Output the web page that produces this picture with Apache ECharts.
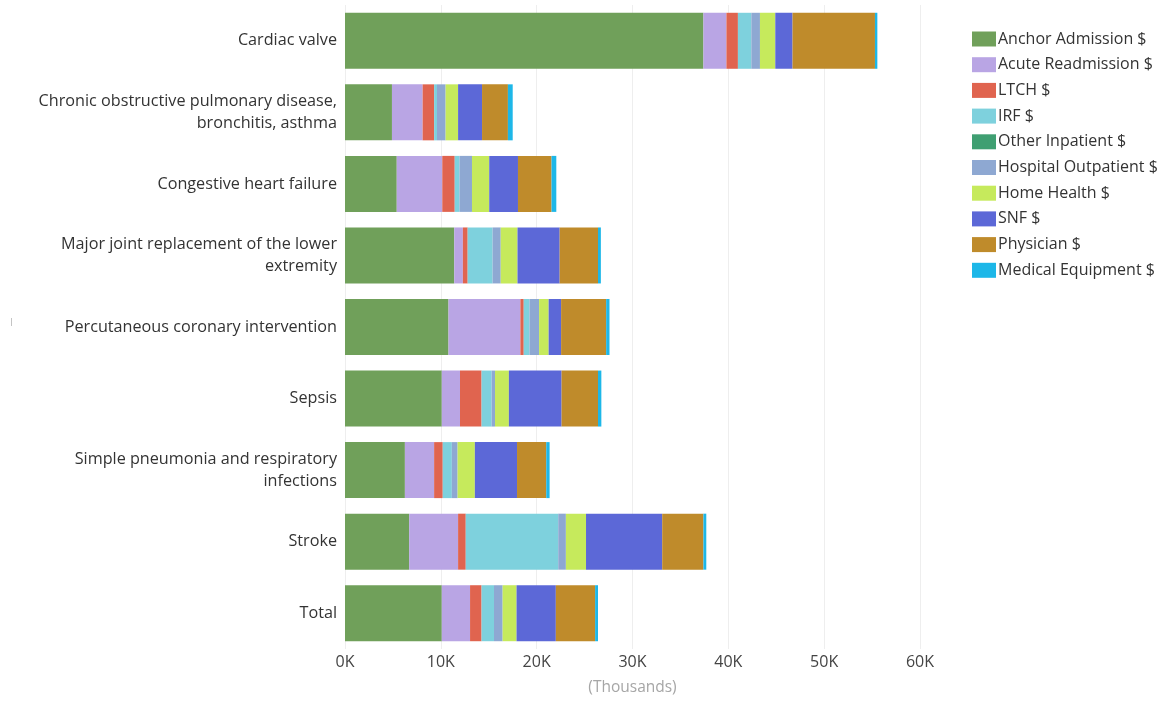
<!DOCTYPE html>
<html>
<head>
<meta charset="utf-8">
<script src="https://cdn.jsdelivr.net/npm/echarts@6/dist/echarts.min.js"></script>
<style>
  html, body { margin: 0; padding: 0; background: #fff; }
  #chart { width: 1165px; height: 701px; }
</style>
</head>
<body>
<div id="chart"></div>
<script>
// Episode spending by service type, in thousands of dollars
const categories = [
  'Cardiac valve',
  'Chronic obstructive pulmonary disease,\nbronchitis, asthma',
  'Congestive heart failure',
  'Major joint replacement of the lower\nextremity',
  'Percutaneous coronary intervention',
  'Sepsis',
  'Simple pneumonia and respiratory\ninfections',
  'Stroke',
  'Total'
];

const seriesNames = [
  'Anchor Admission $', 'Acute Readmission $', 'LTCH $', 'IRF $', 'Other Inpatient $',
  'Hospital Outpatient $', 'Home Health $', 'SNF $', 'Physician $', 'Medical Equipment $'
];

const anchorAdmission    = [37.4, 4.9, 5.4, 11.4, 10.8, 10.1, 6.25, 6.7, 10.1];
const acuteReadmission   = [2.4, 3.2, 4.75, 0.9, 7.5, 1.9, 3.05, 5.1, 2.95];
const ltch               = [1.2, 1.2, 1.3, 0.5, 0.35, 2.25, 0.9, 0.8, 1.2];
const irf                = [1.4, 0.3, 0.5, 2.6, 0.6, 1.05, 0.95, 9.65, 1.3];
const otherInpatient     = [0, 0, 0, 0, 0, 0, 0, 0, 0];
const hospitalOutpatient = [0.9, 0.9, 1.3, 0.85, 1.0, 0.35, 0.6, 0.8, 0.9];
const homeHealth         = [1.6, 1.3, 1.8, 1.75, 1.0, 1.45, 1.8, 2.1, 1.45];
const snf                = [1.8, 2.5, 3.0, 4.4, 1.3, 5.5, 4.4, 7.95, 4.1];
const physician          = [8.6, 2.7, 3.5, 4.0, 4.7, 3.8, 3.05, 4.3, 4.1];
const medicalEquipment   = [0.25, 0.5, 0.5, 0.3, 0.35, 0.35, 0.35, 0.3, 0.3];

const xTicks = [0, 10, 20, 30, 40, 50, 60];

const seriesData = [
  anchorAdmission, acuteReadmission, ltch, irf, otherInpatient,
  hospitalOutpatient, homeHealth, snf, physician, medicalEquipment
];

const colors = [
  '#70a05a', '#b9a5e4', '#e0644f', '#7ed1dd', '#3f9f72',
  '#8ea8d2', '#c6ea5c', '#5c68d7', '#bf8b2b', '#1db7e8'
];

const FONT = '"Open Sans", "Noto Sans", sans-serif';

const chart = echarts.init(document.getElementById('chart'), null, { renderer: 'canvas' });

chart.setOption({
  animation: false,
  color: colors,
  textStyle: { fontFamily: FONT },
  grid: { left: 345, right: 245, top: 5, bottom: 48, containLabel: false },
  legend: {
    orient: 'vertical',
    left: 972,
    top: 31,
    padding: 0,
    itemWidth: 24,
    itemHeight: 15,
    itemGap: 9.7,
    icon: 'rect',
    textStyle: {
      fontFamily: FONT, fontSize: 16, lineHeight: 15, color: '#333',
      padding: [0, 0, 0, -3]
    },
    data: seriesNames
  },
  xAxis: {
    type: 'value',
    min: xTicks[0],
    max: xTicks[xTicks.length - 1],
    interval: 10,
    name: '(Thousands)',
    nameLocation: 'middle',
    nameGap: 31,
    nameTextStyle: { fontFamily: FONT, fontSize: 15.5, color: '#a6a6a6' },
    axisLine: { show: false },
    axisTick: { show: false },
    axisLabel: {
      fontFamily: FONT, fontSize: 16, color: '#444', margin: 5,
      formatter: v => v + 'K'
    },
    splitLine: { show: true, lineStyle: { color: '#eeeeee', width: 1 } }
  },
  yAxis: {
    type: 'category',
    inverse: true,
    data: categories,
    axisLine: { show: false },
    axisTick: { show: false },
    axisLabel: {
      fontFamily: FONT, fontSize: 16.2, color: '#333', margin: 8,
      lineHeight: 22, align: 'right'
    }
  },
  graphic: [
    { type: 'rect', left: 11, top: 318, shape: { width: 1, height: 8 }, style: { fill: '#c4c4c4' } }
  ],
  series: seriesNames.map((name, i) => ({
    name,
    type: 'bar',
    stack: 'total',
    barWidth: 56,
    data: seriesData[i],
    itemStyle: { color: colors[i] }
  }))
});
</script>
</body>
</html>
